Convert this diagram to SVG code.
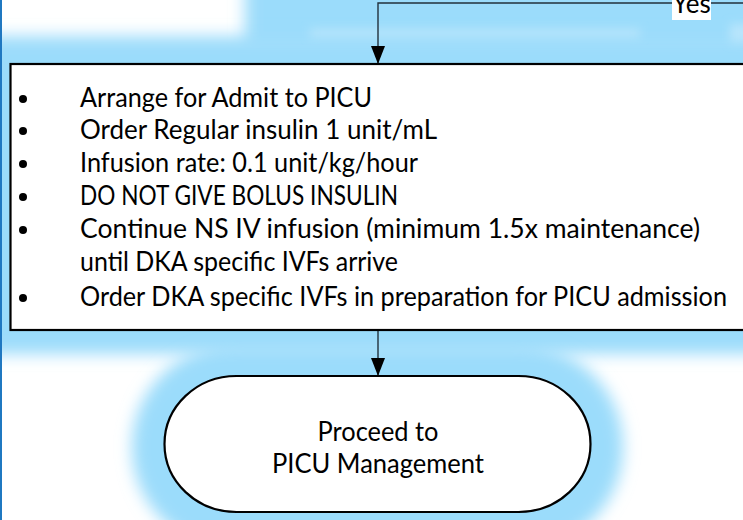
<svg xmlns="http://www.w3.org/2000/svg" width="743" height="520" viewBox="0 0 743 520">
  <defs>
    <filter id="glow" x="-20%" y="-40%" width="140%" height="180%">
      <feGaussianBlur stdDeviation="8"/>
    </filter>
    <filter id="soft" x="-20%" y="-100%" width="140%" height="300%">
      <feGaussianBlur stdDeviation="5"/>
    </filter>
    <marker id="arrow" viewBox="0 0 18 14" refX="18" refY="7" markerWidth="18" markerHeight="14" markerUnits="userSpaceOnUse" orient="auto">
      <path d="M0,0 L18,7 L0,14 Z" fill="#000"/>
    </marker>
    <style>
      .halo { fill: #9bdcfb; }
      .node { fill: #fff; stroke: #000; stroke-width: 2.2; }
      .conn { fill: none; stroke: #22313c; stroke-width: 1.4; }
      .txt { font-family: Lato, "Open Sans", "Liberation Sans", sans-serif; font-size: 26px; fill: #000; }
      .bullet { fill: #000; }
    </style>
  </defs>

  <!-- page background -->
  <rect width="743" height="520" fill="#fff"/>

  <!-- soft highlight halos -->
  <g id="halos">
    <rect class="halo" x="245" y="-60" width="560" height="110" filter="url(#glow)"/>
    <rect class="halo" x="-30" y="36" width="810" height="318" filter="url(#glow)"/>
    <rect x="310" y="29" width="330" height="8" fill="#b8e5fc" filter="url(#soft)"/>
    <rect x="730" y="24" width="40" height="18" fill="#b8e5fc" filter="url(#soft)"/>
    <rect class="halo" x="132" y="346" width="491" height="202" rx="100" ry="100" filter="url(#glow)"/>
  </g>

  <!-- left page edge -->
  <rect x="0" y="0" width="2" height="520" fill="#1f78c1"/>

  <!-- connectors -->
  <g id="connectors">
    <path class="conn" d="M743,3 L378,3 L378,64" marker-end="url(#arrow)"/>
    <path class="conn" d="M378,330 L378,376" marker-end="url(#arrow)"/>
  </g>

  <!-- Yes label -->
  <g id="label-yes">
    <rect x="672" y="0" width="39" height="20" fill="#fff"/>
    <text class="txt" x="691.5" y="13" text-anchor="middle">Yes</text>
  </g>

  <!-- action box -->
  <g id="node-actions">
    <rect class="node" x="10.5" y="64" width="760" height="266"/>
    <circle class="bullet" cx="23" cy="99" r="4"/>
    <circle class="bullet" cx="23" cy="131" r="4"/>
    <circle class="bullet" cx="23" cy="164" r="4"/>
    <circle class="bullet" cx="23" cy="197" r="4"/>
    <circle class="bullet" cx="23" cy="230" r="4"/>
    <circle class="bullet" cx="23" cy="298" r="4"/>
    <text class="txt" x="80" y="107" textLength="292" lengthAdjust="spacingAndGlyphs">Arrange for Admit to PICU</text>
    <text class="txt" x="80" y="139" textLength="357" lengthAdjust="spacingAndGlyphs">Order Regular insulin 1 unit/mL</text>
    <text class="txt" x="80" y="172" textLength="338" lengthAdjust="spacingAndGlyphs">Infusion rate: 0.1 unit/kg/hour</text>
    <text class="txt" x="80" y="205" textLength="318" lengthAdjust="spacingAndGlyphs">DO NOT GIVE BOLUS INSULIN</text>
    <text class="txt" x="80" y="238" textLength="620" lengthAdjust="spacingAndGlyphs">Continue NS IV infusion (minimum 1.5x maintenance)</text>
    <text class="txt" x="80" y="271" textLength="318" lengthAdjust="spacingAndGlyphs">until DKA specific IVFs arrive</text>
    <text class="txt" x="80" y="306" textLength="647" lengthAdjust="spacingAndGlyphs">Order DKA specific IVFs in preparation for PICU admission</text>
  </g>

  <!-- terminal -->
  <g id="node-picu">
    <rect class="node" x="164.5" y="376" width="426" height="136" rx="72" ry="68"/>
    <text class="txt" x="378" y="441" text-anchor="middle" textLength="121" lengthAdjust="spacingAndGlyphs">Proceed to</text>
    <text class="txt" x="378" y="473" text-anchor="middle" textLength="212" lengthAdjust="spacingAndGlyphs">PICU Management</text>
  </g>
</svg>
